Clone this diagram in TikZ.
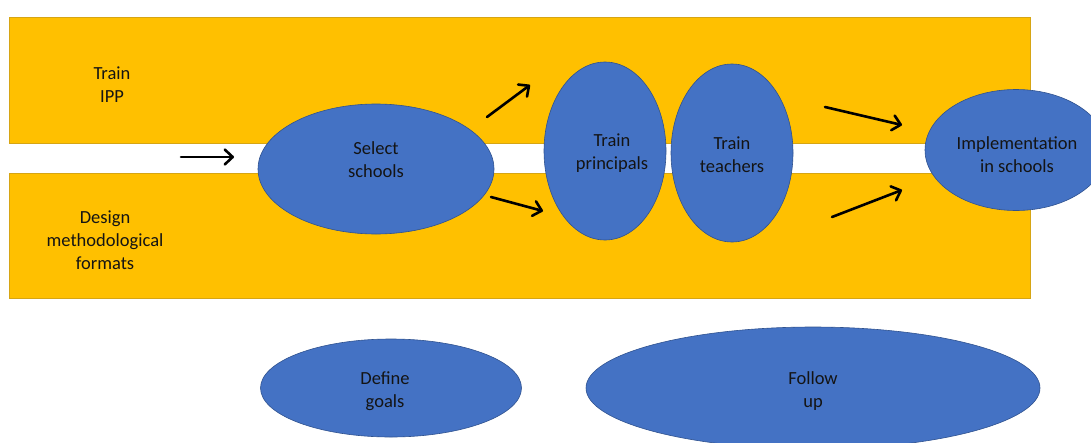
\documentclass[tikz,border=0pt]{standalone}
\usepackage{fontspec}
\setmainfont{Carlito}
\usetikzlibrary{shapes.geometric,arrows.meta}
\definecolor{bandfill}{HTML}{FFC000}
\definecolor{bandedge}{HTML}{D6A514}
\definecolor{stagefill}{HTML}{4472C4}
\definecolor{stageedge}{HTML}{2F528F}
\definecolor{ink}{HTML}{141414}
\tikzset{
  band/.style={rectangle, fill=bandfill, draw=bandedge, line width=0.8pt,
    inner sep=0pt, anchor=north west},
  stage/.style={ellipse, fill=stagefill, draw=stageedge, line width=0.6pt,
    inner sep=0pt},
  label/.style={text=ink, align=center, inner sep=0pt,
    font=\fontsize{18.5}{23}\selectfont},
  flow/.style={draw=black, line width=2.6pt, line cap=round,
    -{Straight Barb[length=8pt,width=15pt,line cap=round,line join=round]}}
}
\begin{document}
\begin{tikzpicture}[x=1pt,y=-1pt]
\useasboundingbox (0,0) rectangle (1091,442);
\clip (0,0) rectangle (1091,442);

% two horizontal bands
\node[band, minimum width=1021pt, minimum height=126pt] (ipp) at (9,17) {};
\node[band, minimum width=1021pt, minimum height=125pt] (formats) at (9,173) {};
\node[label] (ipptext) at (112,85) {Train\\IPP};
\node[label] (formatstext) at (105,240) {Design\\methodological\\formats};

% stages along the flow
\node[stage, minimum width=236pt, minimum height=130pt] (select) at (376,169) {};
\node[stage, minimum width=122pt, minimum height=178pt] (principals) at (605,151) {};
\node[stage, minimum width=122pt, minimum height=178pt] (teachers) at (732,153) {};
\node[stage, minimum width=182pt, minimum height=121pt] (impl) at (1016,150) {};
\node[label] (selecttext) at (376,160) {Select\\schools};
\node[label] (principalstext) at (612,153) {Train\\principals};
\node[label] (teacherstext) at (732,155) {Train\\teachers};
\node[label] (impltext) at (1017,155) {Implementation\\in schools};

% stages below the bands
\node[stage, minimum width=261pt, minimum height=98pt] (goals) at (391,388) {};
\node[stage, minimum width=454pt, minimum height=122pt] (follow) at (813,388) {};
\node[label] (goalstext) at (385,391) {Define\\goals};
\node[label] (followtext) at (813,391) {Follow\\up};

% arrow end points
\coordinate (a1s) at (181,157); \coordinate (a1e) at (234,157);
\coordinate (a2s) at (487,117); \coordinate (a2e) at (530,85);
\coordinate (a3s) at (491,197); \coordinate (a3e) at (543,211);
\coordinate (a4s) at (825,107); \coordinate (a4e) at (902,125);
\coordinate (a5s) at (832,217); \coordinate (a5e) at (902,190);

\draw[flow] (a1s) -- (a1e);
\draw[flow] (a2s) -- (a2e);
\draw[flow] (a3s) -- (a3e);
\draw[flow] (a4s) -- (a4e);
\draw[flow] (a5s) -- (a5e);
\end{tikzpicture}
\end{document}
